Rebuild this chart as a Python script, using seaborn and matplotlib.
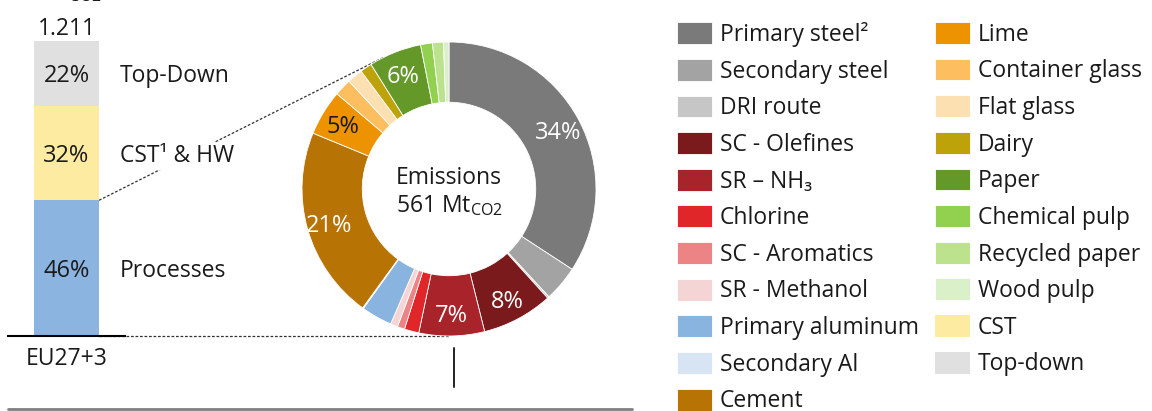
import numpy as np
import pandas as pd
import matplotlib
matplotlib.use("Agg")
import matplotlib.pyplot as plt
import seaborn as sns

# ---- data -------------------------------------------------------------
region = "EU27+3"
total_emissions = 1211                      # Mt CO2, all sources
bar_parts = ["Processes", "CST¹ & HW", "Top-Down"]
bar_shares = [46, 32, 22]                   # % of total
bar_colors = ["#8cb4e1", "#fdeba2", "#e0e0e0"]

process_total = 561                         # Mt CO2, process emissions
processes = [
    "Primary steel²", "Secondary steel", "DRI route", "SC - Olefines",
    "SR – NH₃", "Chlorine", "SC - Aromatics", "SR - Methanol",
    "Primary aluminum", "Secondary Al", "Cement", "Lime",
    "Container glass", "Flat glass", "Dairy", "Paper",
    "Chemical pulp", "Recycled paper", "Wood pulp",
]
process_shares = [
    34.2, 3.9, 0.2, 7.8,
    7.2, 1.6, 0.8, 0.8,
    3.4, 0.1, 21.2, 5.0,
    1.9, 1.7, 1.3, 5.8,
    1.3, 1.2, 0.6,
]
process_colors = [
    "#7a7a7a", "#a3a3a3", "#c6c6c6", "#7b1a1d",
    "#a8232a", "#e02628", "#ec8486", "#f5d4d6",
    "#8ab4e0", "#d6e4f4", "#b87305", "#ed9200",
    "#fdbe5f", "#fde0b2", "#bea209", "#64992a",
    "#92d050", "#bce28e", "#d9f0c8",
]
# wedges that carry a percentage label, with the label colour
labelled = {
    "Primary steel²": "white", "SC - Olefines": "white", "SR – NH₃": "white",
    "Cement": "white", "Lime": "#1a1a1a", "Paper": "white",
}
extra_legend = ["CST", "Top-down"]

# ---- style ------------------------------------------------------------
sns.set_theme(style="white")
plt.rcParams["font.family"] = ["Open Sans", "DejaVu Sans"]
plt.rcParams["mathtext.default"] = "regular"
TXT = "#1a1a1a"
FS = 16.5

W, H = 1152, 411
fig = plt.figure(figsize=(W / 100, H / 100), dpi=100)


def px_box(left, top, width, height):
    return [left / W, 1 - (top + height) / H, width / W, height / H]


# overlay in pixel units for connectors and separators
ax_o = fig.add_axes([0, 0, 1, 1], zorder=0)
ax_o.set_xlim(0, W)
ax_o.set_ylim(0, H)
ax_o.axis("off")

# ---- stacked bar --------------------------------------------------------
ax_bar = fig.add_axes(px_box(8, 41, 117, 295), zorder=2)
ax_bar.patch.set_visible(False)
bottoms = np.concatenate([[0], np.cumsum(bar_shares)[:-1]])
df_bar = pd.DataFrame({"region": region, "part": bar_parts,
                       "share": bar_shares, "bottom": bottoms})
for (_, row), col in zip(df_bar.iterrows(), bar_colors):
    sns.barplot(x=[row.region], y=[row.share], bottom=row.bottom, color=col,
                saturation=1, width=0.556, errorbar=None, linewidth=0,
                ax=ax_bar)
ax_bar.set_xlim(-0.5, 0.5)
ax_bar.set_ylim(0, 100)
sns.despine(ax=ax_bar, left=True)
ax_bar.spines["bottom"].set_color("black")
ax_bar.spines["bottom"].set_linewidth(1.5)
ax_bar.set_yticks([])
ax_bar.set_xlabel("")
ax_bar.set_ylabel("")
ax_bar.tick_params(axis="x", length=0, pad=8, labelsize=FS, labelcolor=TXT)

proc_patch = ax_bar.patches[0]
bar_right = proc_patch.get_x() + proc_patch.get_width()
for _, row in df_bar.iterrows():
    mid = row.bottom + row.share / 2
    ax_bar.text(0, mid, f"{row.share}%", ha="center", va="center_baseline",
                fontsize=FS + 0.5, color=TXT)
    ax_bar.annotate(row.part, xy=(bar_right, mid), xytext=(21, 0),
                    textcoords="offset pixels", ha="left",
                    va="center_baseline", fontsize=FS, color=TXT,
                    annotation_clip=False,
                    bbox=dict(fc="white", ec="none", pad=1.5))
ax_bar.annotate(f"{total_emissions:,}".replace(",", "."), xy=(0, 100),
                xytext=(0, 6), textcoords="offset pixels", ha="center",
                va="baseline", fontsize=FS, color=TXT, annotation_clip=False)

# ---- donut ----------------------------------------------------------------
ax_pie = fig.add_axes(px_box(299, 39, 300, 300), zorder=1)
ax_pie.patch.set_visible(False)
wedges, _ = ax_pie.pie(process_shares, colors=process_colors, startangle=90,
                       counterclock=False,
                       wedgeprops=dict(width=0.41, edgecolor="white",
                                       linewidth=0.6))
lim = 150 / 147
ax_pie.set_xlim(-lim, lim)
ax_pie.set_ylim(-lim, lim)
ax_pie.set_aspect("equal")
ax_pie.axis("off")

for w, name, val in zip(wedges, processes, process_shares):
    if name in labelled:
        ang = np.deg2rad((w.theta1 + w.theta2) / 2)
        r = 0.845
        ax_pie.text(r * np.cos(ang), r * np.sin(ang), f"{val:.0f}%",
                    ha="center", va="center_baseline", fontsize=FS + 0.5,
                    color=labelled[name])

ax_pie.text(0, 0.095, "Emissions", ha="center", va="center_baseline",
            fontsize=FS, color=TXT)
ax_pie.text(0, -0.09, f"{process_total} Mt$_{{CO2}}$", ha="center",
            va="center_baseline", fontsize=FS, color=TXT)

# ---- connectors between bar and donut -------------------------------------
C = ax_pie.transData.transform((0, 0))
R = ax_pie.transData.transform((1, 0))[0] - C[0]
P_top = ax_bar.transData.transform((bar_right, bar_shares[0]))
P_bot = ax_bar.transData.transform((bar_right, 0))
d = P_top - C
phi = np.arctan2(d[1], d[0])
alpha = np.arccos(R / np.hypot(*d))
cands = [C + R * np.array([np.cos(phi + s * alpha), np.sin(phi + s * alpha)])
         for s in (-1, 1)]
T_top = max(cands, key=lambda p: p[1])
T_bot = np.array([C[0], C[1] - R])
dash = dict(color="#333333", lw=0.9, ls=(0, (2.2, 1.4)), zorder=1)
ax_o.plot([P_top[0], T_top[0]], [P_top[1], T_top[1]], **dash)
ax_o.plot([P_bot[0], T_bot[0]], [P_bot[1], T_bot[1]], **dash)

# category separator and bottom rule
sep_x = 454
ax_o.plot([sep_x, sep_x], [H - 387, H - 348], color="#222222", lw=1.4)
ax_o.plot([8, 632], [2, 2], color="#7f7f7f", lw=2)

# unit line above the chart (runs off the top edge)
ax_o.text(40, H - 4, "Mt$_{CO2}$", ha="left", va="bottom", fontsize=FS,
          color=TXT)

# ---- legend ----------------------------------------------------------------
handles = list(wedges) + [ax_bar.patches[1], ax_bar.patches[2]]
labels = processes + extra_legend
leg_kw = dict(frameon=False, fontsize=FS, handlelength=1.53,
              handleheight=1.09, handletextpad=0.35, labelspacing=0.52,
              borderpad=0, borderaxespad=0, loc="upper left",
              labelcolor=TXT)
fig.legend(handles[:11], labels[:11], bbox_to_anchor=(677 / W, 1 - 22 / H),
           **leg_kw)
fig.legend(handles[11:], labels[11:], bbox_to_anchor=(935 / W, 1 - 22 / H),
           **leg_kw)

fig.savefig("out.png", dpi=100)
